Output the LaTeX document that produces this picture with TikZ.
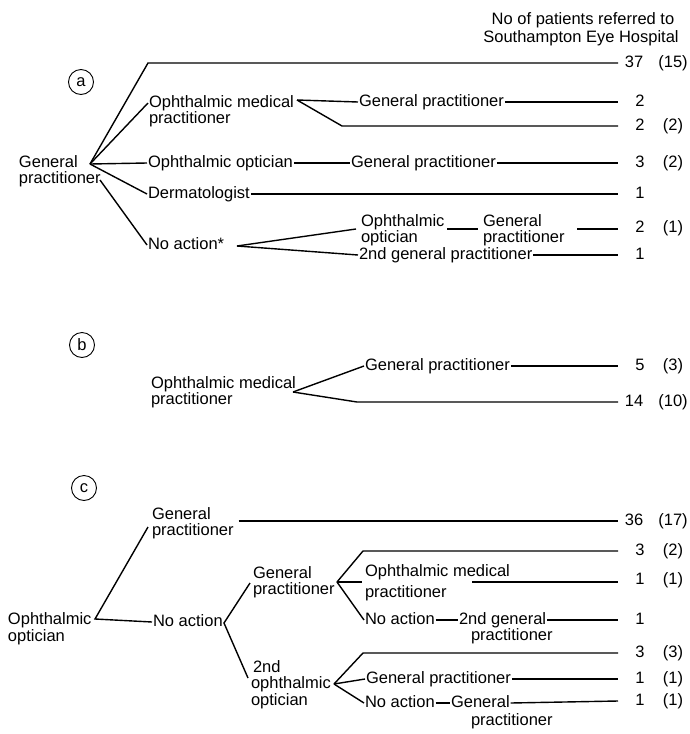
\documentclass[tikz,border=0pt]{standalone}
\usepackage{fontspec}
\setmainfont{Liberation Sans}
\usetikzlibrary{calc}
\newcommand\figfont{\fontsize{16.5}{16.5}\selectfont}
\begin{document}
\begin{tikzpicture}[x=1pt,y=-1pt,
  txt/.style={inner sep=0pt, outer sep=1pt, anchor=west, text height=11.5pt, text depth=3.5pt, font=\figfont},
  num/.style={inner sep=0pt, text height=11.5pt, text depth=3.5pt, font=\figfont},
  circ/.style={draw, circle, minimum size=25pt, inner sep=0pt, line width=0.9pt, font=\figfont},
  ln/.style={line width=1.4pt}]
\useasboundingbox (0,0) rectangle (690,734);
\clip (0,0) rectangle (690,734);

% header
\node[num] (h1) at (583,20) {No of patients referred to};
\node[num] (h2) at (581,38) {Southampton Eye Hospital};

% ---------------- (a)
\node[circ] (ca) at (81,82) {a};
\node[txt] (gpa1) at (18,163) {General};
\node[txt] (gpa2) at (18,179) {practitioner};
\coordinate (va) at (90,164);
\coordinate (vb) at (100,180);
\coordinate (ta) at (148,63);
\coordinate (e1) at (618,63);
\node[num] (n1) at (634,63) {37};
\node[num] (p1) at (673,63) {(15)};
\draw[ln] (va) -- (ta) -- (e1);

\node[txt] (ompa1) at (148,103) {Ophthalmic medical};
\node[txt] (ompa2) at (148,119) {practitioner};
\draw[ln] (va) -- (ompa1.west);
\coordinate (vo) at (297,100);
\node[txt] (gpa3) at (358,102) {General practitioner};
\coordinate (bo) at (342,126);
\coordinate (e2) at (618,102);
\node[num] (n2) at (640,102) {2};
\coordinate (e3) at (618,126);
\node[num] (n3) at (640,126) {2};
\node[num] (p3) at (673,126) {(2)};
\draw[ln] (vo) -- (gpa3.west);
\draw[ln] (gpa3.east) -- (e2);
\draw[ln] (vo) -- (bo) -- (e3);

\node[txt] (ooa) at (147,163) {Ophthalmic optician};
\node[txt] (gpa4) at (350,163) {General practitioner};
\coordinate (e4) at (618,163);
\node[num] (n4) at (640,163) {3};
\node[num] (p4) at (673,163) {(2)};
\draw[ln] (va) -- (ooa.west);
\draw[ln] (ooa.east) -- (gpa4.west);
\draw[ln] (gpa4.east) -- (e4);

\node[txt] (derm) at (147,194) {Dermatologist};
\coordinate (e5) at (618,194);
\node[num] (n5) at (640,194) {1};
\draw[ln] (va) -- (derm.west);
\draw[ln] (derm.east) -- (e5);

\node[txt] (naa) at (147,245) {No action*};
\draw[ln] (vb) -- (naa.west);
\coordinate (vn) at (237,246);
\node[txt] (ooa2) at (360,222) {Ophthalmic};
\node[txt] (ooa3) at (360,238) {optician};
\coordinate (ko) at (356,229);
\coordinate (s1) at (447,229);
\coordinate (s2) at (478,229);
\node[txt] (gpa5) at (482,222) {General};
\node[txt] (gpa6) at (482,238) {practitioner};
\coordinate (s3) at (577,229);
\coordinate (e6) at (618,229);
\node[num] (n6) at (640,228) {2};
\node[num] (p6) at (673,228) {(1)};
\draw[ln] (vn) -- (ko);
\draw[ln] (s1) -- (s2);
\draw[ln] (s3) -- (e6);

\node[txt] (gpa7) at (358,255) {2nd general practitioner};
\coordinate (e7) at (618,255);
\node[num] (n7) at (640,255) {1};
\draw[ln] (vn) -- (gpa7.west);
\draw[ln] (gpa7.east) -- (e7);

% ---------------- (b)
\node[circ] (cb) at (82,345) {b};
\node[txt] (ompb1) at (150,384) {Ophthalmic medical};
\node[txt] (ompb2) at (150,400) {practitioner};
\coordinate (vbb) at (293,392);
\node[txt] (gpb) at (364,366) {General practitioner};
\coordinate (bb) at (357,402);
\coordinate (e8) at (618,366);
\node[num] (n8) at (640,366) {5};
\node[num] (p8) at (673,366) {(3)};
\coordinate (e9) at (618,402);
\node[num] (n9) at (634,402) {14};
\node[num] (p9) at (673,402) {(10)};
\draw[ln] (vbb) -- (gpb.west);
\draw[ln] (gpb.east) -- (e8);
\draw[ln] (vbb) -- (bb) -- (e9);

% ---------------- (c)
\node[circ] (cc) at (84,488) {c};
\node[txt] (gpc1) at (151,515) {General};
\node[txt] (gpc2) at (151,531) {practitioner};
\coordinate (tc) at (148,527);
\coordinate (e10) at (618,521);
\node[num] (n10) at (634,521) {36};
\node[num] (p10) at (673,521) {(17)};
\draw[ln] ([xshift=4pt]gpc2.east |- e10) -- (e10);

\node[txt] (ooc1) at (7,620) {Ophthalmic};
\node[txt] (ooc2) at (7,637) {optician};
\coordinate (vc) at (95,619);
\node[txt] (nac) at (152,622) {No action};
\draw[ln] (tc) -- (vc) -- (nac.west);
\coordinate (vc2) at (224,623);
\node[txt] (gpc3) at (252,574) {General};
\node[txt] (gpc4) at (252,590) {practitioner};
\coordinate (kg) at (250,583);
\coordinate (kd) at (248,678);
\draw[ln] (kg) -- (vc2) -- (kd);
\node[txt] (oc2a) at (252,668) {2nd};
\node[txt] (oc2b) at (250,684) {ophthalmic};
\node[txt] (oc2c) at (250,701) {optician};

% GP sub-branch
\coordinate (vg) at (337,582);
\coordinate (ug) at (363,551);
\coordinate (e11) at (618,551);
\node[num] (n11) at (640,551) {3};
\node[num] (p11) at (673,551) {(2)};
\draw[ln] (vg) -- (ug) -- (e11);
\node[txt] (ompc1) at (364,572) {Ophthalmic medical};
\node[txt] (ompc2) at (364,593) {practitioner};
\coordinate (km) at (362,582);
\coordinate (s12) at (472,582);
\coordinate (e12) at (618,582);
\node[num] (n12) at (640,580) {1};
\node[num] (p12) at (673,580) {(1)};
\draw[ln] (vg) -- (km);
\draw[ln] (s12) -- (e12);
\node[txt] (nac2) at (364,620) {No action};
\node[txt] (gc1) at (458,620) {2nd general};
\node[txt] (gc2) at (470,636) {practitioner};
\coordinate (e13) at (618,620);
\node[num] (n13) at (640,620) {1};
\draw[ln] (vg) -- (nac2.west);
\draw[ln] (nac2.east) -- (gc1.west);
\draw[ln] (gc1.east) -- (e13);

% 2nd ophthalmic optician sub-branch
\coordinate (vo2) at (334,684);
\coordinate (uo) at (363,653);
\coordinate (e14) at (618,653);
\node[num] (n14) at (640,653) {3};
\node[num] (p14) at (673,653) {(3)};
\draw[ln] (vo2) -- (uo) -- (e14);
\node[txt] (go2) at (365,679) {General practitioner};
\coordinate (e15) at (618,679);
\node[num] (n15) at (640,679) {1};
\node[num] (p15) at (673,679) {(1)};
\draw[ln] (vo2) -- (go2.west);
\draw[ln] (go2.east) -- (e15);
\node[txt] (na3) at (364,703) {No action};
\node[txt] (gg1) at (450,703) {General};
\node[txt] (gg2) at (470,721) {practitioner};
\coordinate (e16) at (618,701);
\node[num] (n16) at (640,701) {1};
\node[num] (p16) at (673,701) {(1)};
\draw[ln] (vo2) -- (na3.west);
\draw[ln] (na3.east) -- (gg1.west);
\draw[ln] (gg1.east) -- (e16);
\end{tikzpicture}
\end{document}
